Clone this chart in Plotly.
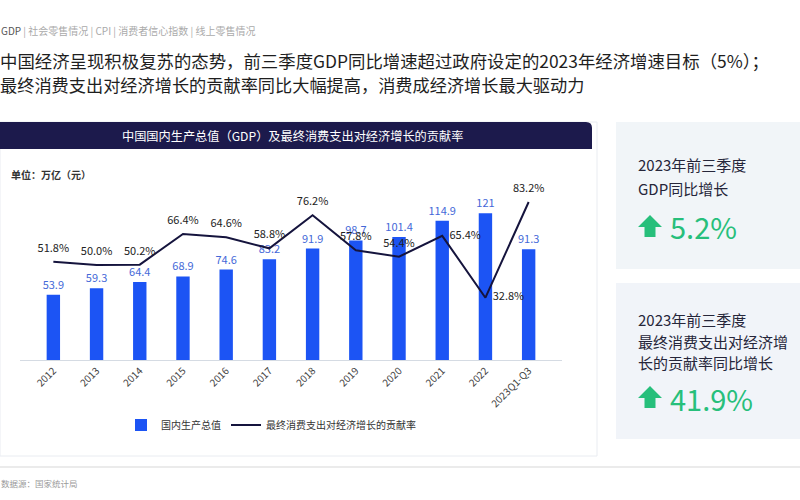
import plotly.graph_objects as go

W, H = 800, 500

categories = ["2012", "2013", "2014", "2015", "2016", "2017", "2018", "2019",
              "2020", "2021", "2022", "2023Q1-Q3"]
gdp = [53.9, 59.3, 64.4, 68.9, 74.6, 83.2, 91.9, 98.7, 101.4, 114.9, 121, 91.3]
contrib = [51.8, 50.0, 50.2, 66.4, 64.6, 58.8, 76.2, 57.8, 54.4, 65.4, 32.8, 83.2]
contrib_text = [f"{v:.1f}%" for v in contrib]
contrib_pos = ["top center"] * 9 + ["middle right", "middle right", "top center"]

FONT = "Noto Sans CJK SC"
BLUE = "#1c54f4"
NAVY = "#15143d"
GREEN = "#27bf7b"


def px(x):
    return x / W


def py(y):
    return 1 - y / H


def path(points):
    s = "M " + " L ".join(f"{px(x):.5f},{py(y):.5f}" for x, y in points) + " Z"
    return s


fig = go.Figure()

fig.add_trace(go.Bar(
    x=categories, y=gdp, name="国内生产总值",
    marker=dict(color=BLUE, line=dict(width=0)),
    text=[f"{v:g}" for v in gdp], textposition="outside", constraintext="none",
    textfont=dict(color="#4468d8", size=11, family=FONT),
    cliponaxis=False, yaxis="y",
))
fig.add_trace(go.Scatter(
    x=categories, y=contrib, name="最终消费支出对经济增长的贡献率",
    mode="lines+markers+text", line=dict(color=NAVY, width=2),
    marker=dict(size=10, color="rgba(0,0,0,0)"),
    text=contrib_text, textposition=contrib_pos,
    textfont=dict(color="#222222", size=11, family=FONT),
    cliponaxis=False, yaxis="y2",
))

shapes = []
# chart card
shapes.append(dict(type="rect", xref="paper", yref="paper",
                   x0=px(0), x1=px(597), y0=py(456), y1=py(122),
                   fillcolor="white", line=dict(color="#e9ecf1", width=1), layer="below"))
# header band with rounded top-right corner
band = (f"M {px(0):.5f},{py(149):.5f} L {px(0):.5f},{py(122):.5f} "
        f"L {px(586):.5f},{py(122):.5f} Q {px(592):.5f},{py(122):.5f} {px(592):.5f},{py(128):.5f} "
        f"L {px(592):.5f},{py(149):.5f} Z")
shapes.append(dict(type="path", xref="paper", yref="paper", path=band,
                   fillcolor="#1c1a4c", line=dict(width=0), layer="below"))
# right panels
shapes.append(dict(type="rect", xref="paper", yref="paper",
                   x0=px(616), x1=px(800), y0=py(269), y1=py(122),
                   fillcolor="#f1f5f8", line=dict(width=0), layer="below"))
shapes.append(dict(type="rect", xref="paper", yref="paper",
                   x0=px(616), x1=px(800), y0=py(439), y1=py(283),
                   fillcolor="#f1f4f9", line=dict(width=0), layer="below"))
# arrows
for dy in (0, 171):
    pts = [(638, 227 + dy), (650, 215 + dy), (662, 227 + dy), (655.5, 227 + dy),
           (655.5, 237 + dy), (644.5, 237 + dy), (644.5, 227 + dy)]
    shapes.append(dict(type="path", xref="paper", yref="paper", path=path(pts),
                       fillcolor=GREEN, line=dict(width=0)))
# bottom separator
shapes.append(dict(type="line", xref="paper", yref="paper",
                   x0=0, x1=1, y0=py(467), y1=py(467),
                   line=dict(color="#e4e4e4", width=1.5)))

ann = []


def txt(x, y, s, size, color, xanchor="left", **kw):
    ann.append(dict(xref="paper", yref="paper", x=px(x), y=py(y), text=s,
                    showarrow=False, xanchor=xanchor, yanchor="middle",
                    font=dict(size=size, color=color, family=FONT), **kw))


txt(-1, 30, "<span style='color:#555555'>GDP</span> | 社会零售情况 | CPI | 消费者信心指数 | 线上零售情况",
    10, "#aaaaaa")
txt(-2, 60, "中国经济呈现积极复苏的态势，前三季度GDP同比增速超过政府设定的2023年经济增速目标（5%）；", 17.4, "#1e1e1e")
txt(-2, 84, "最终消费支出对经济增长的贡献率同比大幅提高，消费成经济增长最大驱动力", 17.2, "#1e1e1e")
txt(292, 135.5, "中国国内生产总值（GDP）及最终消费支出对经济增长的贡献率", 12.2, "white", xanchor="center")
txt(9, 174, "<b>单位：万亿（元）</b>", 10, "#333333")
txt(636, 164, "2023年前三季度", 15, "#26263a")
txt(636, 188, "GDP同比增长", 15, "#26263a")
txt(668, 226, "5.2%", 29, GREEN)
txt(636, 319, "2023年前三季度", 15, "#26263a")
txt(636, 341, "最终消费支出对经济增", 15, "#26263a")
txt(636, 362, "长的贡献率同比增长", 15, "#26263a")
txt(668, 398, "41.9%", 29, GREEN)
txt(-1, 483, "数据源：国家统计局", 8.5, "#9a9a9a")

fig.update_layout(
    width=W, height=H,
    margin=dict(l=0, r=0, t=0, b=0),
    paper_bgcolor="white", plot_bgcolor="rgba(0,0,0,0)",
    font=dict(family=FONT, color="#333333"),
    bargap=0.69,
    showlegend=True,
    legend=dict(orientation="h", x=px(271), xanchor="center", y=py(425), yanchor="middle",
                font=dict(size=10, color="#333333", family=FONT),
                bgcolor="rgba(0,0,0,0)", itemwidth=30),
    xaxis=dict(domain=[px(20), px(562)], type="category",
               showline=True, linecolor="#d5dbe3", linewidth=1,
               ticks="", tickangle=-45, tickfont=dict(size=10, color="#444444", family=FONT),
               showgrid=False, zeroline=False),
    yaxis=dict(domain=[py(360), py(190)], range=[0, 170 / 1.212],
               visible=False, showgrid=False, zeroline=False),
    yaxis2=dict(domain=[py(360), py(190)], range=[0, 170 / 1.899], overlaying="y",
                visible=False, showgrid=False, zeroline=False),
    shapes=shapes, annotations=ann,
)

fig.write_html("out.html", config={"displayModeBar": False},
               post_script="document.body.style.margin='0';document.body.style.overflow='hidden';")
